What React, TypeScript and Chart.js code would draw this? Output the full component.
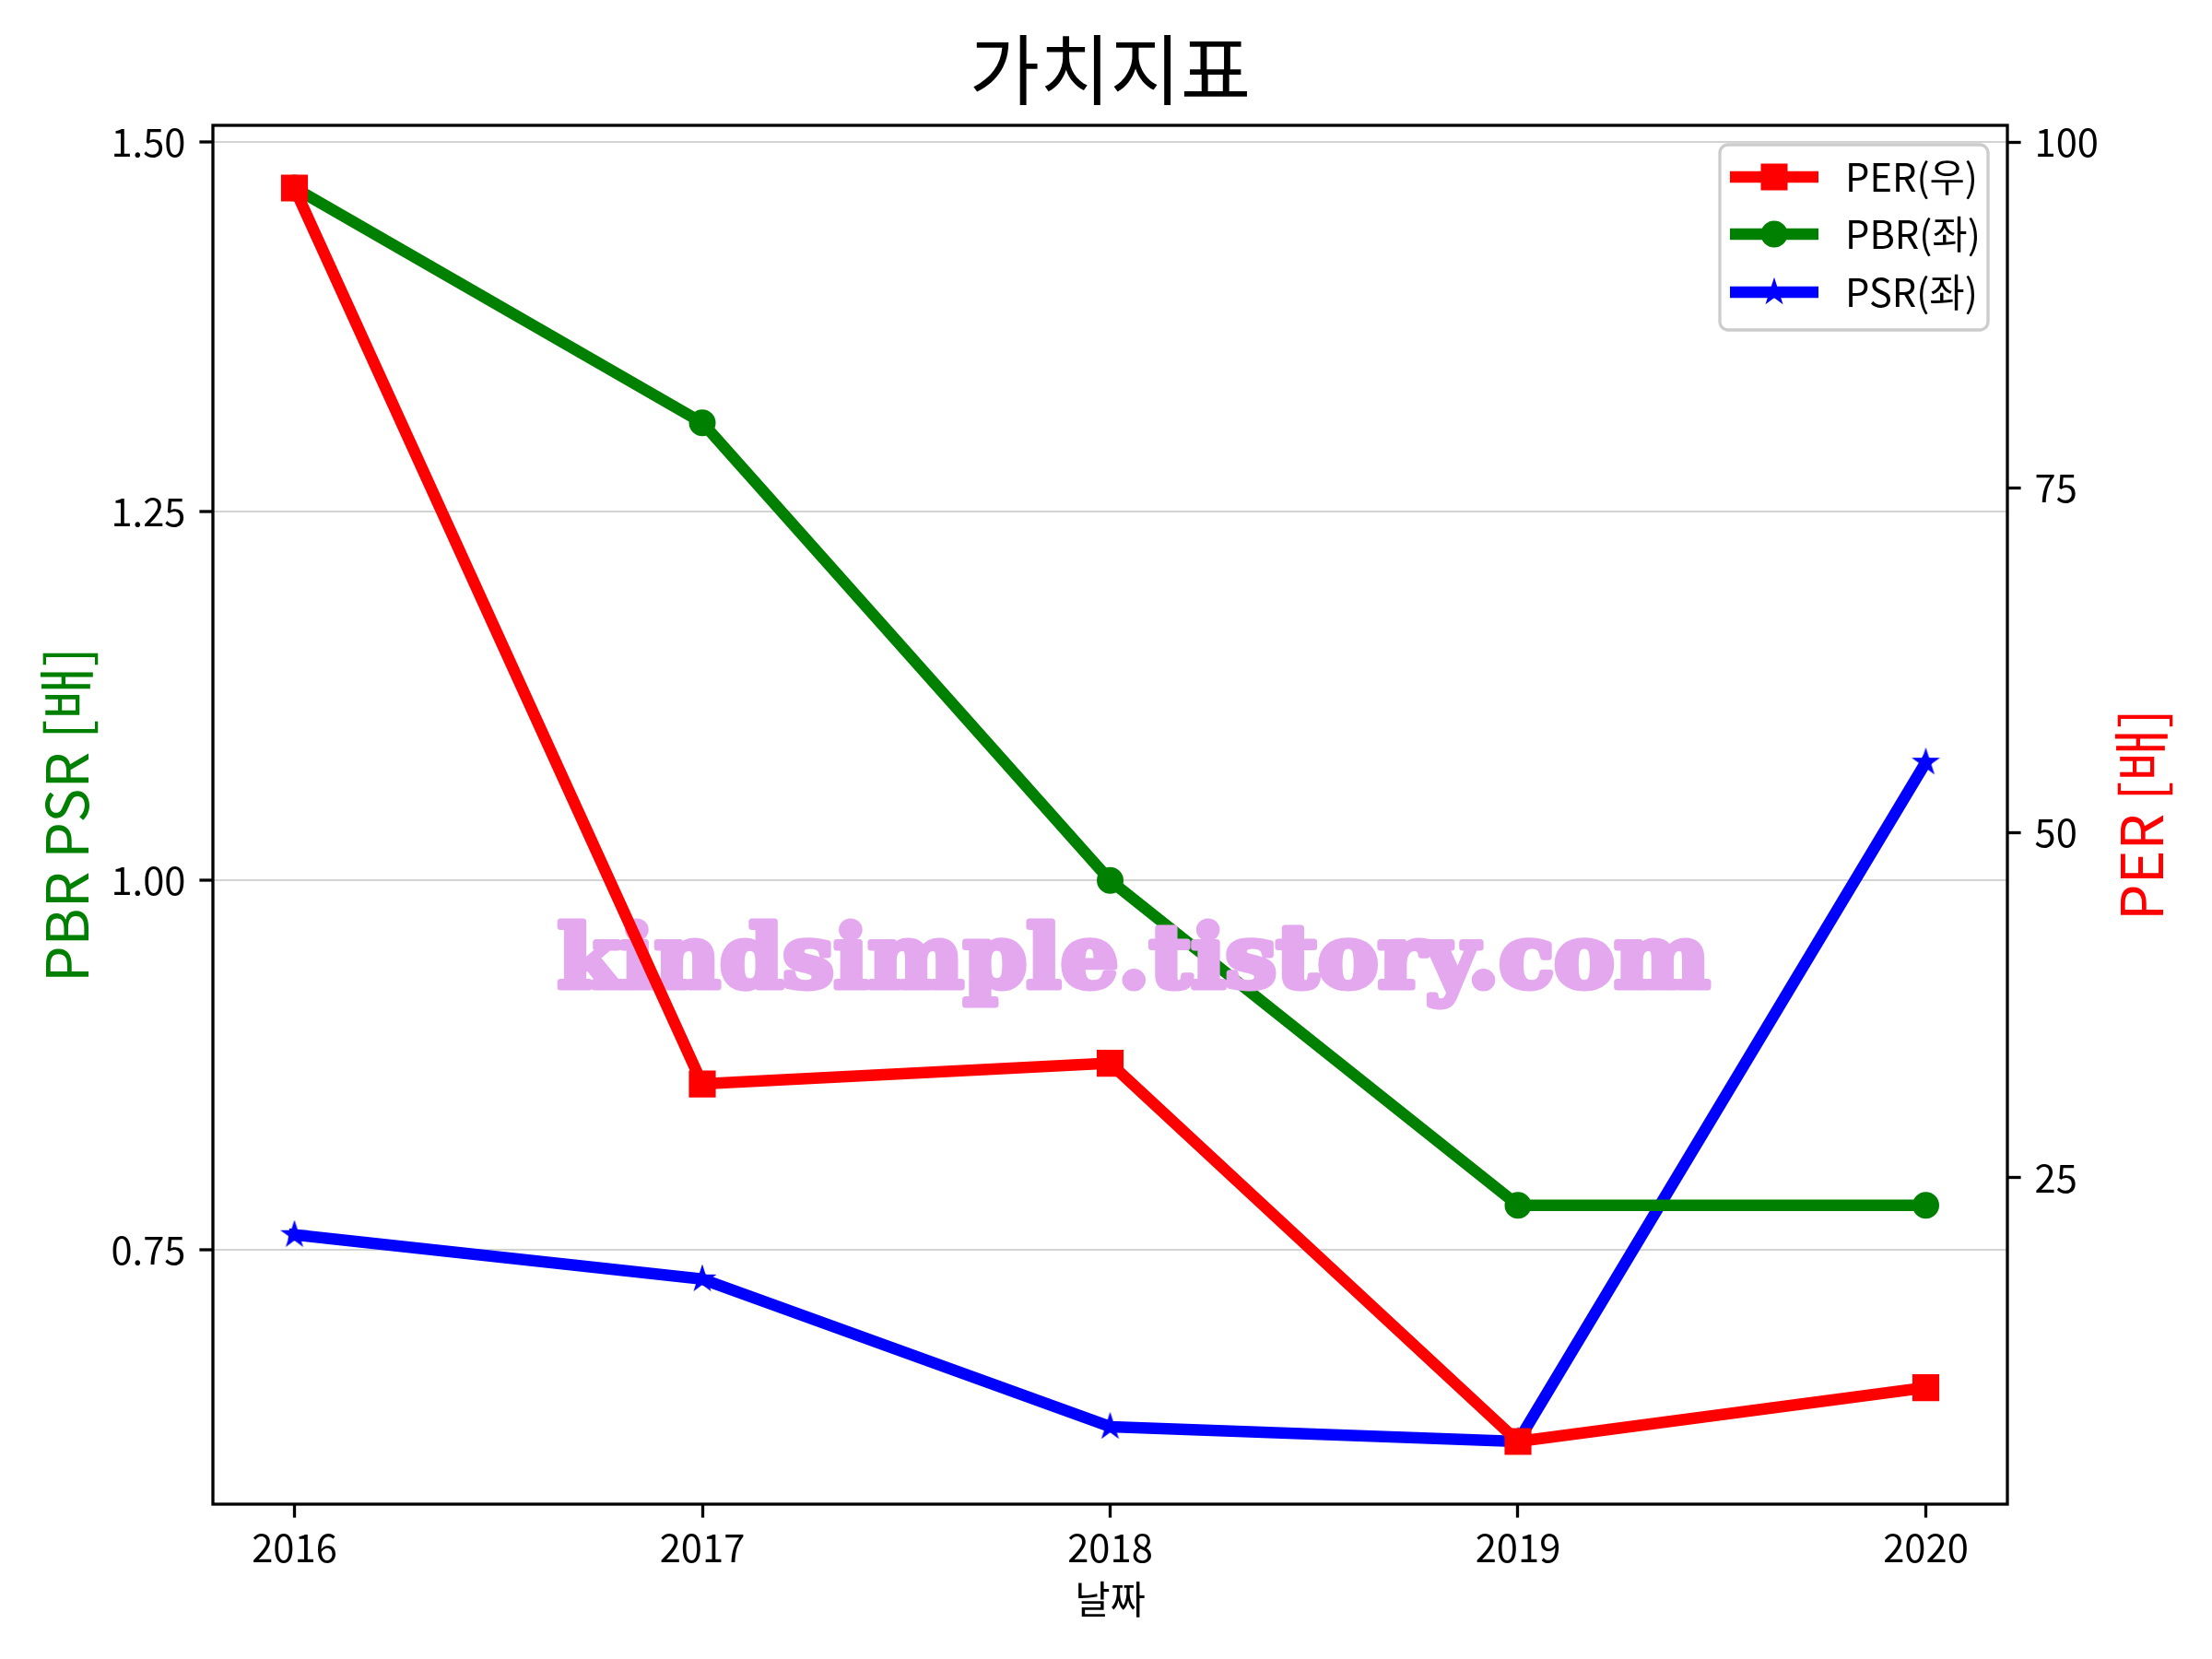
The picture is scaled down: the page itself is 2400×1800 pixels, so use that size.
import React, { useEffect, useRef } from 'react';
import { Chart, registerables } from 'chart.js';

Chart.register(...registerables);

// ---- data ----
const years = [2016, 2017, 2018, 2019, 2020];
const perValues = [96.7, 31.8, 33.3, 5.9, 9.8];
const pbrValues = [1.469, 1.31, 1.0, 0.78, 0.78];
const psrValues = [0.76, 0.73, 0.63, 0.62, 1.08];
const leftTicks = [0.75, 1.0, 1.25, 1.5];
const rightTicks = [25, 50, 75, 100];
const seriesLabels = ['PER(우)', 'PBR(좌)', 'PSR(좌)'];
const titleText = '가치지표';
const xLabelText = '날짜';
const leftLabelText = 'PBR PSR [배]';
const rightLabelText = 'PER [배]';
const watermarkText = 'kindsimple.tistory.com';

// ---- layout / style ----
const W = 2400;
const H = 1800;
const AREA = { left: 231, right: 2178, top: 136, bottom: 1632 };
const FONT = '"Noto Sans CJK KR", "Noto Sans", sans-serif';
const TICK_SIZE = 41.7;
const LW = 12.5;
const SPINE = 3.3;

function limits(vals: number[]) {
  const mn = Math.min(...vals);
  const mx = Math.max(...vals);
  const m = (mx - mn) * 0.05;
  return [mn - m, mx + m];
}

function makeStar(color: string, r: number) {
  const size = Math.ceil(r * 2 + 6);
  const c = document.createElement('canvas');
  c.width = size;
  c.height = size;
  const g = c.getContext('2d')!;
  drawStarPath(g, size / 2, size / 2, r);
  g.fillStyle = color;
  g.fill();
  g.lineWidth = 2;
  g.strokeStyle = color;
  g.lineJoin = 'miter';
  g.stroke();
  return c;
}

function drawStarPath(g: CanvasRenderingContext2D, cx: number, cy: number, r: number) {
  const inner = r * 0.381966;
  g.beginPath();
  for (let i = 0; i < 10; i++) {
    const ang = -Math.PI / 2 + (i * Math.PI) / 5;
    const rr = i % 2 === 0 ? r : inner;
    const x = cx + rr * Math.cos(ang);
    const y = cy + rr * Math.sin(ang);
    if (i === 0) g.moveTo(x, y);
    else g.lineTo(x, y);
  }
  g.closePath();
}

export default function App() {
  const ref = useRef<HTMLCanvasElement | null>(null);

  useEffect(() => {
    document.body.style.margin = '0';
    const canvas = ref.current!;
    const [xMin, xMax] = limits(years);
    const [lMin, lMax] = limits([...pbrValues, ...psrValues]);
    const [rMin, rMax] = limits(perValues);
    const star = makeStar('#0000ff', 13);

    const colors = ['#ff0000', '#008000', '#0000ff'];

    const decor = {
      id: 'decor',
      afterDatasetDraw(chart: any, args: any) {
        if (args.index !== 1) return;
        const ctx = chart.ctx as CanvasRenderingContext2D;
        ctx.save();
        ctx.font = 'bold 94px "DejaVu Serif", serif';
        const m = ctx.measureText(watermarkText).width;
        const target = 1250;
        ctx.translate(1230, 1071);
        ctx.scale(target / m, 1);
        ctx.fillStyle = 'rgb(228,168,238)';
        ctx.strokeStyle = 'rgb(228,168,238)';
        ctx.lineWidth = 7;
        ctx.lineJoin = 'round';
        ctx.textAlign = 'center';
        ctx.textBaseline = 'alphabetic';
        ctx.strokeText(watermarkText, 0, 0);
        ctx.fillText(watermarkText, 0, 0);
        ctx.restore();
      },
      afterDraw(chart: any) {
        const ctx = chart.ctx as CanvasRenderingContext2D;
        const ca = chart.chartArea;
        ctx.save();
        // frame
        ctx.strokeStyle = '#000';
        ctx.lineWidth = SPINE;
        ctx.strokeRect(ca.left, ca.top, ca.right - ca.left, ca.bottom - ca.top);
        // title
        ctx.fillStyle = '#000';
        ctx.textAlign = 'center';
        ctx.textBaseline = 'middle';
        ctx.font = `83px ${FONT}`;
        ctx.fillText(titleText, (ca.left + ca.right) / 2, 75);
        // x label
        ctx.font = `${TICK_SIZE}px ${FONT}`;
        ctx.fillText(xLabelText, (ca.left + ca.right) / 2, 1735);
        // left y label
        const cy = (ca.top + ca.bottom) / 2;
        ctx.font = `62.5px ${FONT}`;
        ctx.save();
        ctx.translate(72, cy);
        ctx.rotate(-Math.PI / 2);
        ctx.fillStyle = '#008000';
        ctx.fillText(leftLabelText, 0, 0);
        ctx.restore();
        // right y label
        ctx.save();
        ctx.translate(2323, cy);
        ctx.rotate(-Math.PI / 2);
        ctx.fillStyle = '#ff0000';
        ctx.fillText(rightLabelText, 0, 0);
        ctx.restore();
        // legend
        const lx0 = 1866, ly0 = 157, lx1 = 2157, ly1 = 358;
        ctx.beginPath();
        (ctx as any).roundRect(lx0, ly0, lx1 - lx0, ly1 - ly0, 9);
        ctx.fillStyle = 'rgba(255,255,255,0.8)';
        ctx.fill();
        ctx.strokeStyle = '#cccccc';
        ctx.lineWidth = SPINE;
        ctx.stroke();
        const rows = [192, 254, 317];
        rows.forEach((ry, i) => {
          const col = colors[i];
          ctx.strokeStyle = col;
          ctx.fillStyle = col;
          ctx.lineWidth = LW;
          ctx.lineCap = 'butt';
          ctx.beginPath();
          ctx.moveTo(1877, ry);
          ctx.lineTo(1973, ry);
          ctx.stroke();
          const mx = 1925;
          if (i === 0) {
            ctx.fillRect(mx - 14.5, ry - 14.5, 29, 29);
          } else if (i === 1) {
            ctx.beginPath();
            ctx.arc(mx, ry, 14.5, 0, Math.PI * 2);
            ctx.fill();
          } else {
            ctx.drawImage(star, mx - star.width / 2, ry - star.height / 2);
          }
          ctx.fillStyle = '#000';
          ctx.textAlign = 'left';
          ctx.textBaseline = 'middle';
          ctx.font = `${TICK_SIZE}px ${FONT}`;
          ctx.fillText(seriesLabels[i], 2002, ry);
        });
        ctx.restore();
      },
    };

    const tickFont = { family: FONT, size: TICK_SIZE };

    const chart = new Chart(canvas, {
      type: 'line',
      data: {
        datasets: [
          {
            label: seriesLabels[0],
            data: years.map((x, i) => ({ x, y: perValues[i] })),
            yAxisID: 'y1',
            borderColor: colors[0],
            backgroundColor: colors[0],
            borderWidth: LW,
            pointStyle: 'rect',
            pointRadius: 18.5,
            pointBorderWidth: 3,
            pointBackgroundColor: colors[0],
            pointBorderColor: colors[0],
            borderJoinStyle: 'round',
            borderCapStyle: 'square',
            tension: 0,
          },
          {
            label: seriesLabels[1],
            data: years.map((x, i) => ({ x, y: pbrValues[i] })),
            yAxisID: 'y',
            borderColor: colors[1],
            backgroundColor: colors[1],
            borderWidth: LW,
            pointStyle: 'circle',
            pointRadius: 13,
            pointBorderWidth: 3,
            pointBackgroundColor: colors[1],
            pointBorderColor: colors[1],
            borderJoinStyle: 'round',
            borderCapStyle: 'square',
            tension: 0,
          },
          {
            label: seriesLabels[2],
            data: years.map((x, i) => ({ x, y: psrValues[i] })),
            yAxisID: 'y',
            borderColor: colors[2],
            backgroundColor: colors[2],
            borderWidth: LW,
            pointStyle: star as any,
            pointRadius: 13,
            borderJoinStyle: 'round',
            borderCapStyle: 'square',
            tension: 0,
          },
        ],
      },
      options: {
        responsive: false,
        animation: false,
        events: [],
        layout: { padding: { top: AREA.top, left: 0, right: 0, bottom: 0 } },
        plugins: {
          legend: { display: false },
          title: { display: false },
          tooltip: { enabled: false },
        },
        scales: {
          x: {
            type: 'linear',
            min: xMin,
            max: xMax,
            afterBuildTicks: (s: any) => {
              s.ticks = years.map((v) => ({ value: v }));
            },
            afterFit: (s: any) => {
              s.height = H - AREA.bottom;
            },
            ticks: {
              font: tickFont,
              color: '#000',
              padding: 8,
              maxRotation: 0,
              autoSkip: false,
              callback: (v: any) => String(v),
            },
            grid: {
              drawOnChartArea: false,
              tickColor: '#000',
              tickWidth: SPINE,
              tickLength: 14.6,
            },
            border: { display: false },
          },
          y: {
            type: 'linear',
            position: 'left',
            min: lMin,
            max: lMax,
            afterBuildTicks: (s: any) => {
              s.ticks = leftTicks.map((v) => ({ value: v }));
            },
            afterFit: (s: any) => {
              s.width = AREA.left;
            },
            ticks: {
              font: tickFont,
              color: '#000',
              padding: 15,
              callback: (v: any) => Number(v).toFixed(2),
            },
            grid: {
              drawOnChartArea: true,
              color: '#d3d3d3',
              lineWidth: 2,
              tickColor: '#000',
              tickWidth: SPINE,
              tickLength: 14.6,
            },
            border: { display: false },
          },
          y1: {
            type: 'linear',
            position: 'right',
            min: rMin,
            max: rMax,
            afterBuildTicks: (s: any) => {
              s.ticks = rightTicks.map((v) => ({ value: v }));
            },
            afterFit: (s: any) => {
              s.width = W - AREA.right;
            },
            ticks: {
              font: tickFont,
              color: '#000',
              padding: 15,
              callback: (v: any) => String(v),
            },
            grid: {
              drawOnChartArea: false,
              tickColor: '#000',
              tickWidth: SPINE,
              tickLength: 14.6,
            },
            border: { display: false },
          },
        },
      },
      plugins: [decor],
    } as any);

    return () => chart.destroy();
  }, []);

  return (
    <div style={{ width: W, height: H }}>
      <canvas ref={ref} width={W} height={H} style={{ width: W, height: H, display: 'block' }} />
    </div>
  );
}
